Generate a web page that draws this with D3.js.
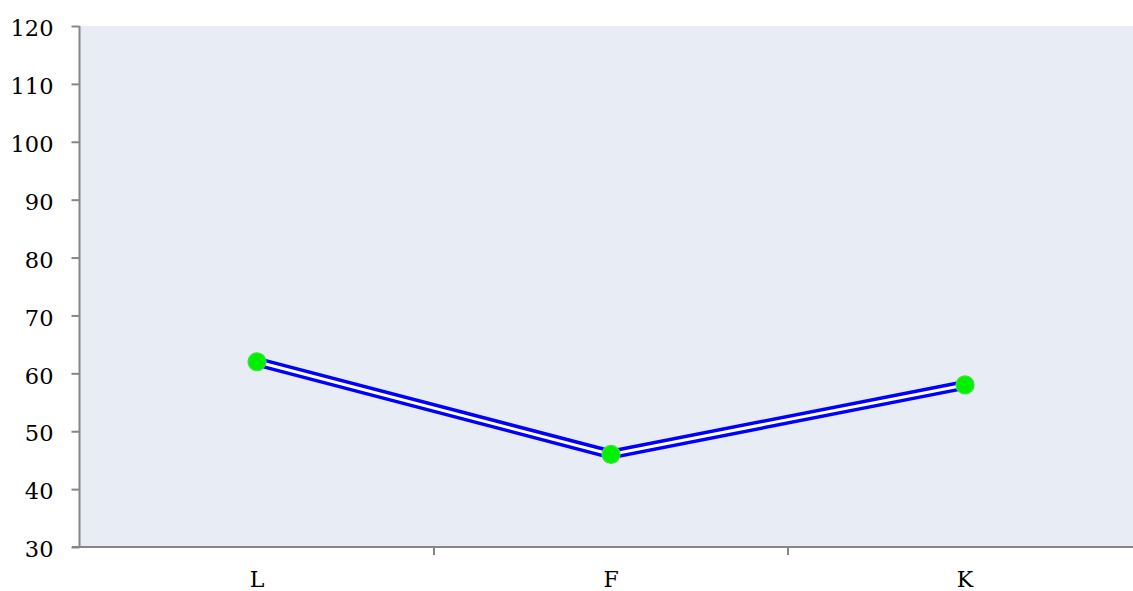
<!DOCTYPE html>
<html><head><meta charset="utf-8">
<script src="https://cdn.jsdelivr.net/npm/d3@7"></script>
<style>body{margin:0;background:#fff;}svg{display:block;}</style>
</head><body>
<svg id="chart" width="1133" height="591"></svg>
<script>
const categories = ["L", "F", "K"];
const values = [62, 46, 58];
const yTicks = [30, 40, 50, 60, 70, 80, 90, 100, 110, 120];

(function () {
const svg = d3.select("#chart");
const mLeft = 80, mRight = 1142, mTop = 26, mBottom = 547;
const x = d3.scaleBand().domain(categories).range([mLeft, mRight]);
const y = d3.scaleLinear().domain([30, 120]).range([mBottom, mTop]);

svg.append("rect").attr("x", mLeft).attr("y", mTop)
  .attr("width", mRight - mLeft).attr("height", mBottom - mTop).attr("fill", "#E8ECF4");

const font = "'DejaVu Serif', serif";
const yAxis = svg.append("g").attr("transform", `translate(${mLeft - 0.5},0)`)
  .call(d3.axisLeft(y).tickValues(yTicks).tickSize(8).tickPadding(18).tickFormat(d3.format("d")));
yAxis.selectAll("line, path").attr("stroke", "#868686").attr("stroke-width", 2);
yAxis.select("path").attr("d", `M0,${mTop}V${mBottom}`);
yAxis.selectAll("text").style("font-family", font).style("font-size", "22.5px").attr("fill", "#000")
  .attr("dy", "0.43em");

const xAxis = svg.append("g").attr("transform", `translate(0,${mBottom})`)
  .call(d3.axisBottom(x).tickSize(0).tickPadding(0));
xAxis.select("path").attr("d", `M${mLeft - 8},0H${mRight}`).attr("stroke", "#868686").attr("stroke-width", 2);
xAxis.selectAll("text").style("font-family", font).style("font-size", "22px").attr("fill", "#000")
  .attr("y", 40).attr("dy", 0);
xAxis.selectAll(".bt").data(categories.slice(1)).enter().append("line")
  .attr("x1", d => x(d)).attr("x2", d => x(d)).attr("y1", 0).attr("y2", 8)
  .attr("stroke", "#868686").attr("stroke-width", 2);

const line = d3.line().x((d, i) => x(categories[i]) + x.bandwidth() / 2).y(d => y(d));
svg.append("path").datum(values).attr("d", line).attr("fill", "none")
  .attr("stroke", "#0000FF").attr("stroke-width", 10);
svg.append("path").datum(values).attr("d", line).attr("fill", "none")
  .attr("stroke", "#fff").attr("stroke-width", 3);

svg.selectAll(".pt").data(values).enter().append("circle")
  .attr("cx", (d, i) => x(categories[i]) + x.bandwidth() / 2).attr("cy", d => y(d))
  .attr("r", 9).attr("fill", "#00F000").attr("stroke", "#40E040").attr("stroke-width", 1.2);
})();
</script>
</body></html>
